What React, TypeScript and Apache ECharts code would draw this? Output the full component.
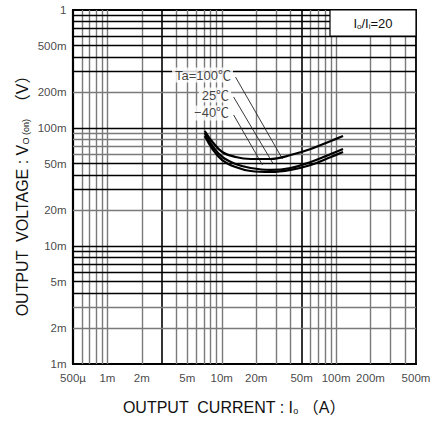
import { useEffect, useRef } from "react";
import * as echarts from "echarts";

// ---- tick labels ----
const xTickValues = [0.0005, 0.001, 0.002, 0.005, 0.01, 0.02, 0.05, 0.1, 0.2, 0.5];
const xTickLabels = ["500µ", "1m", "2m", "5m", "10m", "20m", "50m", "100m", "200m", "500m"];
const yTickValues = [0.001, 0.002, 0.005, 0.01, 0.02, 0.05, 0.1, 0.2, 0.5, 1];
const yTickLabels = ["1m", "2m", "5m", "10m", "20m", "50m", "100m", "200m", "500m", "1"];

// ---- series (output current in A, output voltage in V) ----
const current = [0.0071, 0.0083, 0.0101, 0.0132, 0.0179, 0.0267, 0.04, 0.06, 0.09, 0.115];
const vTa100 = [0.0943, 0.0761, 0.0626, 0.0568, 0.0546, 0.0546, 0.059, 0.0664, 0.0776, 0.0855];
const vTa25 = [0.0907, 0.0704, 0.0568, 0.0495, 0.0458, 0.0441, 0.0458, 0.0515, 0.0602, 0.0664];
const vTaM40 = [0.0855, 0.0664, 0.0535, 0.0467, 0.0432, 0.0424, 0.0441, 0.0486, 0.0568, 0.0626];

// ---- annotations ----
const tempLabels = ["Ta=100℃", "25℃", "−40℃"];
const leaderFrom = [
  [0.0132, 0.27],
  [0.0127, 0.183],
  [0.0127, 0.129],
];
const leaderTo = [
  [0.034, 0.0546],
  [0.0279, 0.0505],
  [0.0227, 0.0486],
];

const X_MIN = 0.0005;
const X_MAX = 0.5;
const Y_MIN = 0.001;
const Y_MAX = 1;

const xHeavy = [0.003, 0.05];
const yHeavy = [0.004, 0.005, 0.006, 0.007, 0.008, 0.009, 0.01, 0.03, 0.04, 0.05, 0.1, 0.3, 0.4, 0.5, 0.6, 0.7, 0.8, 0.9];

const FONT = "'Liberation Sans', Arial, 'Noto Sans CJK JP', sans-serif";

function logGrid(lo: number, hi: number): number[] {
  const out: number[] = [];
  for (let e = -5; e <= 1; e++) {
    for (let k = 1; k <= 9; k++) {
      const v = parseFloat((k * Math.pow(10, e)).toPrecision(3));
      if (v > lo * 1.0001 && v < hi * 0.9999) out.push(v);
    }
  }
  return out;
}

const near = (arr: number[], v: number) => arr.some((a) => Math.abs(a - v) / v < 1e-6);

export default function App() {
  const ref = useRef<HTMLDivElement>(null);

  useEffect(() => {
    if (!ref.current) return;
    const chart = echarts.init(ref.current, undefined, { renderer: "svg" });

    const xGrid = logGrid(X_MIN, X_MAX);
    const yGrid = logGrid(Y_MIN, Y_MAX);
    const gridLines = [
      ...xGrid.map((v) => ({
        xAxis: v,
        lineStyle: near(xHeavy, v)
          ? { color: "#000", width: 1.6, type: "solid" }
          : { color: "#7a7a7a", width: 1.4, type: "solid" },
      })),
      ...yGrid.map((v) => ({
        yAxis: v,
        lineStyle: near(yHeavy, v)
          ? { color: "#000", width: 1.4, type: "solid" }
          : { color: "#7a7a7a", width: 1.4, type: "solid" },
      })),
    ];

    const curve = (name: string, ys: number[]) => ({
      name,
      type: "line",
      data: current.map((x, i) => [x, ys[i]]),
      smooth: 0.4,
      showSymbol: false,
      symbol: "none",
      lineStyle: { color: "#000", width: 2.2 },
      z: 5,
      silent: true,
    });

    const option: any = {
      animation: false,
      backgroundColor: "#fff",
      grid: {
        left: 73,
        right: 23,
        top: 10,
        bottom: 59,
        show: true,
        borderColor: "#000",
        borderWidth: 1.8,
        backgroundColor: "transparent",
      },
      xAxis: {
        type: "log",
        logBase: 10,
        min: X_MIN,
        max: X_MAX,
        axisLabel: { show: false },
        axisTick: { show: false },
        splitLine: { show: false },
        minorTick: { show: false },
        axisLine: { show: true, lineStyle: { color: "#000", width: 2.2 } },
      },
      yAxis: {
        type: "log",
        logBase: 10,
        min: Y_MIN,
        max: Y_MAX,
        axisLabel: { show: false },
        axisTick: { show: false },
        splitLine: { show: false },
        minorTick: { show: false },
        axisLine: { show: true, lineStyle: { color: "#000", width: 2.2 } },
      },
      series: [
        {
          name: "grid",
          type: "line",
          data: [[X_MIN, Y_MIN]],
          showSymbol: false,
          symbol: "none",
          lineStyle: { opacity: 0 },
          silent: true,
          z: 1,
          markLine: {
            silent: true,
            precision: 10,
            symbol: ["none", "none"],
            label: { show: false },
            emphasis: { disabled: true },
            animation: false,
            data: gridLines,
          },
        },
        curve("Ta=100℃", vTa100),
        curve("Ta=25℃", vTa25),
        curve("Ta=−40℃", vTaM40),
        {
          name: "xTicks",
          type: "scatter",
          clip: false,
          silent: true,
          symbolSize: 1,
          itemStyle: { color: "rgba(0,0,0,0)" },
          data: xTickValues.map((v) => [v, Y_MIN]),
          label: {
            show: true,
            position: "bottom",
            distance: 8,
            formatter: (p: any) => xTickLabels[p.dataIndex],
            color: "#111",
            fontSize: 11.5,
            fontFamily: FONT,
          },
          z: 6,
        },
        {
          name: "yTicks",
          type: "scatter",
          clip: false,
          silent: true,
          symbolSize: 1,
          itemStyle: { color: "rgba(0,0,0,0)" },
          data: yTickValues.map((v) => [X_MIN, v]),
          label: {
            show: true,
            position: "left",
            distance: 6,
            formatter: (p: any) => yTickLabels[p.dataIndex],
            color: "#111",
            fontSize: 11.5,
            fontFamily: FONT,
          },
          z: 6,
        },
        {
          name: "tempLabels",
          type: "scatter",
          clip: false,
          silent: true,
          symbolSize: 1,
          itemStyle: { color: "rgba(0,0,0,0)" },
          data: leaderFrom.map((p) => [p[0], p[1]]),
          label: {
            show: true,
            position: "left",
            distance: 2,
            offset: [0, -2],
            formatter: (p: any) => tempLabels[p.dataIndex],
            color: "#111",
            fontSize: 13,
            fontFamily: FONT,
            backgroundColor: "#fff",
            padding: [1, 2, 1, 3],
          },
          markLine: {
            silent: true,
            precision: 10,
            symbol: ["none", "none"],
            label: { show: false },
            emphasis: { disabled: true },
            lineStyle: { color: "#222", width: 0.9, type: "solid" },
            data: leaderFrom.map((f, i) => [{ coord: f }, { coord: leaderTo[i] }]),
          },
          z: 7,
        },
      ],
      graphic: [
        {
          type: "rect",
          shape: { x: 330, y: 10, width: 86, height: 26 },
          style: { fill: "#fff", stroke: "#000", lineWidth: 1.2 },
          z: 100,
        },
        {
          type: "text",
          x: 373,
          y: 23,
          style: {
            text: "I{s|o}/I{s|i}=20",
            fontSize: 13,
            fontFamily: FONT,
            fill: "#111",
            align: "center",
            verticalAlign: "middle",
            rich: { s: { fontSize: 8, padding: [6, 0, 0, 0], fontFamily: FONT, fill: "#111" } },
          },
          z: 101,
        },
        {
          type: "text",
          x: 234,
          y: 407,
          style: {
            text: "OUTPUT  CURRENT : I{s|o} （A）",
            fontSize: 16,
            fontFamily: FONT,
            fill: "#111",
            align: "center",
            verticalAlign: "middle",
            rich: { s: { fontSize: 9, padding: [8, 0, 0, 0], fontFamily: FONT, fill: "#111" } },
          },
          z: 100,
        },
        {
          type: "text",
          x: 22,
          y: 192,
          rotation: Math.PI / 2,
          style: {
            text: "OUTPUT  VOLTAGE : V{s|O (on)}  （V）",
            fontSize: 16,
            fontFamily: FONT,
            fill: "#111",
            align: "center",
            verticalAlign: "middle",
            rich: { s: { fontSize: 9, padding: [8, 0, 0, 0], fontFamily: FONT, fill: "#111" } },
          },
          z: 100,
        },
      ],
    };

    chart.setOption(option);
    return () => chart.dispose();
  }, []);

  return (
    <div
      ref={ref}
      style={{ position: "fixed", left: 0, top: 0, width: 439, height: 423, background: "#fff" }}
    />
  );
}
